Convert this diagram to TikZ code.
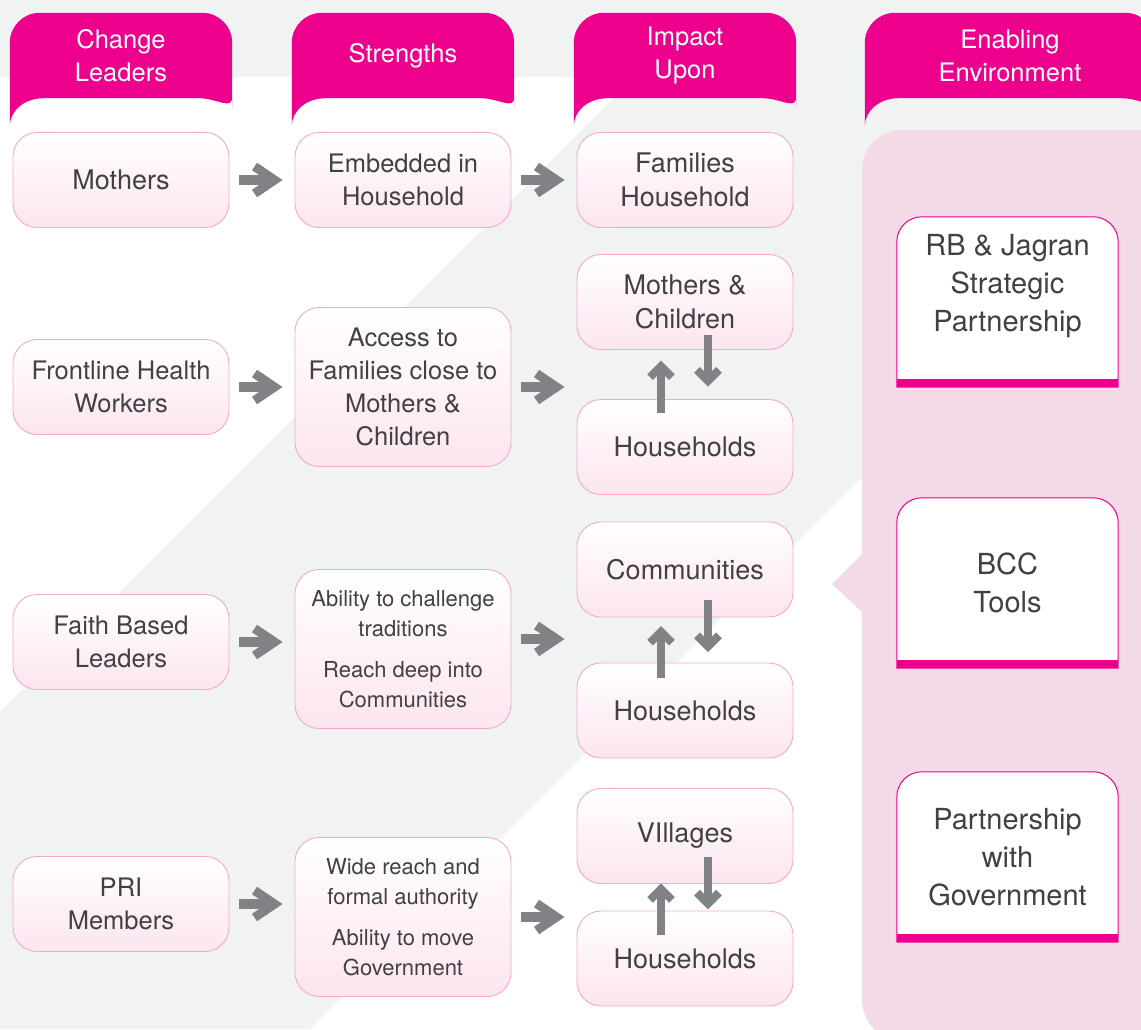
\documentclass[tikz,border=0pt]{standalone}
\usepackage{fontspec}
\setmainfont{TeX Gyre Heros}
\usepackage{tikz}
\usetikzlibrary{positioning,calc,arrows.meta}
\usepackage{xcolor}

\definecolor{tabpink}{HTML}{EC008C}
\definecolor{ink}{HTML}{414042}
\definecolor{arrowgray}{HTML}{808285}
\definecolor{bggray}{HTML}{F1F2F2}
\definecolor{boxline}{HTML}{F5AACB}
\definecolor{boxpink}{HTML}{FCE5EF}
\definecolor{panelpink}{HTML}{F4DAE7}

\pgfdeclarelayer{back}
\pgfdeclarelayer{frame}
\pgfsetlayers{back,frame,main}

\newcommand\fnBody{\fontsize{25.5}{33}\selectfont}
\newcommand\fnBig{\fontsize{27}{34}\selectfont}
\newcommand\fnSmall{\fontsize{22}{29.5}\selectfont}
\newcommand\fnEnv{\fontsize{29}{38}\selectfont}

\begin{document}
\begin{tikzpicture}[x=1pt,y=-1pt,
    tab/.style={minimum width=222pt,minimum height=85pt,inner sep=0pt,align=center,text=white,font=\fnBody},
    box/.style={rectangle,rounded corners=24pt,draw=boxline,line width=0.9pt,top color=white,bottom color=boxpink,
      minimum width=216pt,minimum height=95pt,inner sep=0pt,align=center,text=ink,font=\fnBody},
    tall/.style={box,minimum height=159pt},
    impbox/.style={box,font=\fnBig},
    envbox/.style={minimum width=221pt,minimum height=170pt,inner sep=0pt,align=center,text=ink,font=\fnEnv},
    harrow/.style={draw=arrowgray,line width=10pt,shorten <=10pt,shorten >=12pt,
      -{Straight Barb[length=20pt,width=27pt,line width=9pt,sharp]}},
    varrow/.style={draw=arrowgray,line width=8pt,-{Straight Barb[length=11pt,width=22pt,line width=8pt,sharp]}}]

\useasboundingbox (0,0) rectangle (1141,1029);

% Background
\begin{pgfonlayer}{back}
\fill[white] (0,0) rectangle (1141,1029);
\fill[bggray] (0,0) -- (1141,0) -- (1141,198) -- (310,1029) -- (0,1029) -- (0,712) -- (635,77) -- (0,77) -- cycle;
\fill[panelpink,rounded corners=40pt] (862,130) rectangle (1180,1040);
\fill[panelpink] (832,584) -- (863,553) -- (863,613) -- cycle;
\end{pgfonlayer}

% Column headers
\node[tab] (hLead) at (121,55.5) {Change\\Leaders};
\node[tab] (hStr) at (403,55.5) {Strengths};
\node[tab] (hImp) at (685,55.5) {Impact\\Upon};
\node[tab,minimum width=290pt] (hEnv) at (1010,55.5) {Enabling\\Environment};

% Change leaders
\node[box,font=\fnBig] (lead1) at (121,180) {Mothers};
\node[box] (lead2) at (121,387) {Frontline Health\\Workers};
\node[box] (lead3) at (121,642) {Faith Based\\Leaders};
\node[box] (lead4) at (121,904) {PRI\\Members};

% Strengths
\node[box] (str1) at (403,180) {Embedded in\\Household};
\node[tall] (str2) at (403,387) {Access to\\Families close to\\Mothers \&\\Children};
\node[tall,font=\fnSmall] (str3) at (403,649) {Ability to challenge\\traditions\\[12pt]Reach deep into\\Communities};
\node[tall,font=\fnSmall] (str4) at (403,917) {Wide reach and\\formal authority\\[12pt]Ability to move\\Government};

% Impact upon
\node[impbox] (imp1) at (685,180) {Families\\Household};
\node[impbox] (imp2a) at (685,302) {Mothers \&\\Children};
\node[impbox] (imp2b) at (685,447) {Households};
\node[impbox] (imp3a) at (685,569.5) {Communities};
\node[impbox] (imp3b) at (685,710.5) {Households};
\node[impbox] (imp4a) at (685,836) {VIllages};
\node[impbox] (imp4b) at (685,958.5) {Households};

% Enabling environment
\node[envbox] (envRB) at (1007.5,302) {RB \& Jagran\\Strategic\\Partnership\\ \mbox{}};
\node[envbox] (envBCC) at (1007.5,583) {BCC\\Tools};
\node[envbox] (envGov) at (1007.5,857) {Partnership\\with\\Government};

% Arrows
\foreach \i in {1,...,4}
  \draw[harrow] (lead\i.east) -- (lead\i.east -| str\i.west);
\draw[harrow] (str1.east) -- (imp1.west);
\draw[harrow] (str2.east) -- (str2.east -| imp2a.west);
\draw[harrow] ([yshift=10pt]str3.east) -- ([yshift=10pt]str3.east -| imp3a.west);
\draw[harrow] (str4.east) -- (str4.east -| imp4a.west);

\foreach \a/\b in {imp2a/imp2b,imp3a/imp3b,imp4a/imp4b} {
  \coordinate (m) at ($(\a.south)!.5!(\b.north)$);
  \draw[varrow] ($(m)+(23,-40)$) -- ($(m)+(23,12)$);
  \draw[varrow] ($(m)+(-24,38)$) -- ($(m)+(-24,-14)$);
}

% Tab and frame shapes
\begin{pgfonlayer}{frame}
\foreach \t in {hLead,hStr,hImp,hEnv}
  \fill[tabpink] ([yshift=-28pt]\t.south west) [rounded corners=30pt] |- (\t.north) -| ([yshift=-28pt]\t.south east)
    [sharp corners] .. controls ([yshift=-13pt]\t.south east) and ([xshift=-14pt]\t.south east) .. ([xshift=-34pt]\t.south east)
    -- ([xshift=34pt]\t.south west) .. controls ([xshift=14pt]\t.south west) and ([yshift=-13pt]\t.south west) .. cycle;
\foreach \e in {envRB,envBCC,envGov} {
  \filldraw[fill=white,draw=tabpink,line width=1pt] (\e.south west) [rounded corners=25pt] -- (\e.north west)
    -- (\e.north east) [sharp corners] -- (\e.south east) -- cycle;
  \fill[tabpink] (\e.south west) rectangle ([yshift=8pt]\e.south east);
}
\end{pgfonlayer}

\end{tikzpicture}
\end{document}
